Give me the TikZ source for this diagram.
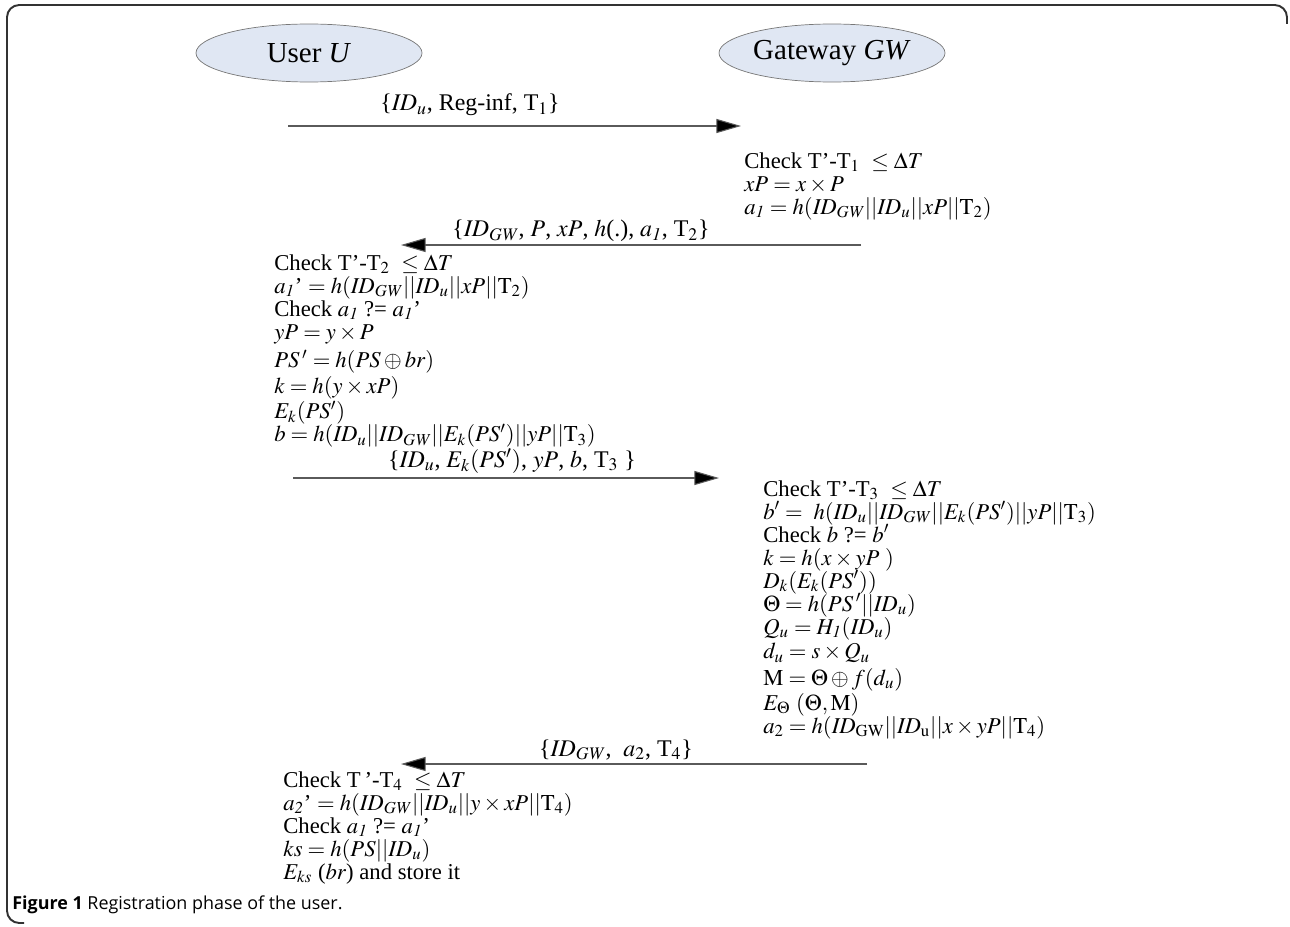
\documentclass[tikz,border=0pt]{standalone}
\usepackage{amsmath}
\usepackage{mathptmx}
\usepackage{fontspec}
\setmainfont{Liberation Serif}
\newfontfamily\capfont{Open Sans}
\usepackage{tikz}
\usetikzlibrary{shapes.geometric}
\usetikzlibrary{arrows.meta}

\definecolor{partyfill}{RGB}{224,231,243}
\definecolor{partyline}{RGB}{120,120,120}
\definecolor{msgline}{RGB}{90,90,90}
\definecolor{framec}{RGB}{50,50,50}

\newcommand{\IDu}{\mathit{ID}_u}
\newcommand{\IDgw}{\mathit{ID}_{\mathit{GW}}}
\newcommand{\aone}{a_{\mathit{1}}}
\newcommand{\tightlines}{\lineskiplimit=-20pt\relax\lineskip=0pt\relax}

\tikzset{
  party/.style={ellipse, draw=partyline, fill=partyfill, inner sep=0pt, minimum width=226*0.02cm, minimum height=58*0.02cm, font=\fontsize{16.5}{19}\selectfont},
  msg/.style={draw=msgline, line width=0.6pt, -{Triangle[length=14pt,width=8pt,fill=black]}},
  calc/.style={anchor=north west, align=left, inner sep=0pt, font=\fontsize{12.9}{13.1}\selectfont\tightlines},
  msglabel/.style={inner sep=0pt, font=\fontsize{13.6}{15}\selectfont}
}

\begin{document}
\begin{tikzpicture}[x=0.02cm, y=-0.02cm]
\useasboundingbox (0,0) rectangle (1290,926);
% frame of the figure
\draw[framec, line width=1.1pt, rounded corners=7pt] (24,923) -- (7,923) -- (7,5) -- (1287,5) -- (1287,24);
% the two parties
\node[party] (user) at (309,53) {User \textit{U}};
\node[party] (gw) at (832,53) {Gateway \textit{GW}};
% first message
\coordinate (u1) at (288,126);
\coordinate (g1) at (741,126);
\draw[msg] (u1) -- (g1);
\node[msglabel] (m1) at (470,105) {\{$\IDu$, Reg-inf, T$_1$\}};
\node[calc] (gwa) at (744,152) {Check T'-T$_1$ \ $\leq \Delta T$\\
$xP = x \times P$\\
$\aone = h(\IDgw||\IDu||xP||\mathrm{T}_2)$};
% second message
\coordinate (g2) at (861,245);
\coordinate (u2) at (401,245);
\draw[msg] (g2) -- (u2);
\node[msglabel] (m2) at (581,231) {\{$\IDgw$, $P$, $xP$, $h$(.), $\aone$, T$_2$\}};
\node[calc] (usra) at (274,254) {Check T'-T$_2$ \ $\leq \Delta T$\\
$\aone$' $= h(\IDgw||\IDu||xP||\mathrm{T}_2)$\\
Check $\aone$ ?= $\aone$'\\
$yP = y \times P$\\[3pt]
$PS\,' = h(PS \oplus br)$\\[2pt]
$k = h(y \times xP)$\\[1pt]
$E_k(PS')$\\
$b = h(\IDu||\IDgw||E_k(PS')||yP||\mathrm{T}_3)$};
% third message
\coordinate (u3) at (293,478);
\coordinate (g3) at (719,478);
\draw[msg] (u3) -- (g3);
\node[msglabel] (m3) at (512,461) {\{$\IDu$, $E_k(PS')$, $yP$, $b$, T$_3$ \}};
\node[calc] (gwb) at (763,480) {Check T'-T$_3$ \ $\leq \Delta T$\\
$b' =\ h(\IDu||\IDgw||E_k(PS')||yP||\mathrm{T}_3)$\\
Check $b$ ?= $b'$\\
$k = h(x \times yP\ )$\\
$D_k(E_k(PS'))$\\
$\Theta = h(PS\,'||\IDu)$\\
$Q_u = H_{\mathit{1}}(\IDu)$\\[1pt]
$d_u = s \times Q_u$\\[2pt]
$\mathrm{M} = \Theta \oplus f(d_u)$\\[1pt]
$E_\Theta$ $(\Theta, \mathrm{M})$\\
$a_2 = h(\mathit{ID}_{\mathrm{GW}}||\mathit{ID}_{\mathrm{u}}||x \times yP||\mathrm{T}_4)$};
% fourth message
\coordinate (g4) at (867,764);
\coordinate (u4) at (401,764);
\draw[msg] (g4) -- (u4);
\node[msglabel] (m4) at (616,750) {\{$\IDgw$,\ \ $a_2$, T$_4$\}};
\node[calc] (usrb) at (283,771) {Check T\,'-T$_4$ \ $\leq \Delta T$\\
$a_{\mathit{2}}$' $= h(\IDgw||\IDu||y \times xP||\mathrm{T}_4)$\\
Check $\aone$ ?= $\aone$'\\
$ks = h(PS||\IDu)$\\
$E_{ks}$ ($br$) and store it};
% caption
\node[anchor=west, inner sep=0pt, font=\capfont\fontsize{10.2}{12}\selectfont] (cap) at (12,905) {\textbf{Figure 1} Registration phase of the user.};
\end{tikzpicture}
\end{document}
